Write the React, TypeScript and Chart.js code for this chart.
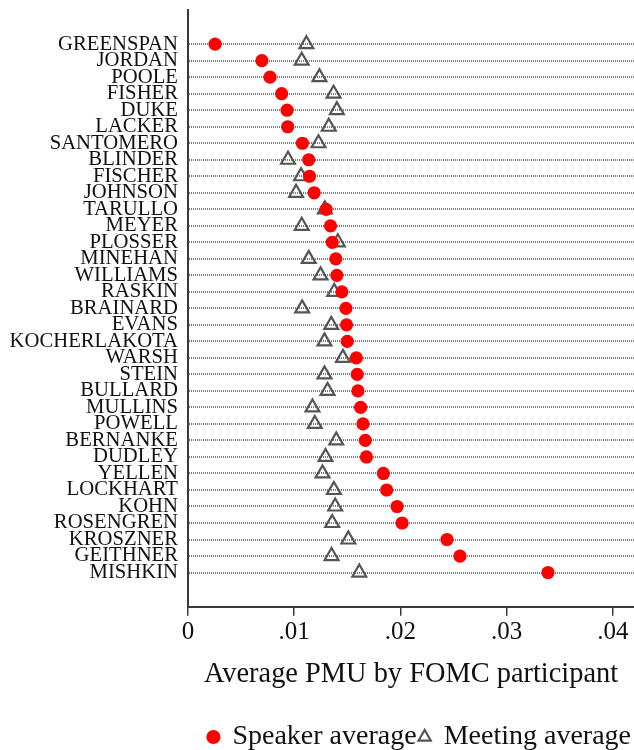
import { useEffect, useRef } from 'react';
import { Chart, registerables } from 'chart.js';

Chart.register(...registerables);

const names = [
  'GREENSPAN', 'JORDAN', 'POOLE', 'FISHER', 'DUKE', 'LACKER', 'SANTOMERO', 'BLINDER',
  'FISCHER', 'JOHNSON', 'TARULLO', 'MEYER', 'PLOSSER', 'MINEHAN', 'WILLIAMS', 'RASKIN',
  'BRAINARD', 'EVANS', 'KOCHERLAKOTA', 'WARSH', 'STEIN', 'BULLARD', 'MULLINS', 'POWELL',
  'BERNANKE', 'DUDLEY', 'YELLEN', 'LOCKHART', 'KOHN', 'ROSENGREN', 'KROSZNER', 'GEITHNER',
  'MISHKIN',
];

const speakerAverage = [
  0.00255, 0.00696, 0.00772, 0.00882, 0.00933, 0.00939, 0.01077, 0.01137,
  0.01144, 0.01188, 0.01301, 0.01342, 0.01358, 0.01392, 0.01402, 0.01449,
  0.01487, 0.01493, 0.0150, 0.01585, 0.01594, 0.0160, 0.01626, 0.01648,
  0.0167, 0.0168, 0.0184, 0.01871, 0.01969, 0.02016, 0.02439, 0.02561,
  0.0339,
];

const meetingAverage = [
  0.01115, 0.01071, 0.01238, 0.01371, 0.01402, 0.01326, 0.01229, 0.00942,
  0.01065, 0.01018, 0.01289, 0.01071, 0.01411, 0.01137, 0.01248, 0.01377,
  0.01075, 0.01349, 0.01285, 0.01459, 0.01285, 0.01314, 0.01172, 0.01194,
  0.01396, 0.01295, 0.01267, 0.01374, 0.01386, 0.01358, 0.0151, 0.01352,
  0.01613,
];

const xTickValues = [0, 0.01, 0.02, 0.03, 0.04];
const xTickLabels = ['0', '.01', '.02', '.03', '.04'];

const SERIF = "'Liberation Serif', 'DejaVu Serif', serif";

export default function App() {
  const ref = useRef<HTMLCanvasElement | null>(null);

  useEffect(() => {
    if (!ref.current) return;
    const chart = new Chart(ref.current, {
      type: 'scatter',
      data: {
        datasets: [
          {
            label: 'Speaker average',
            data: speakerAverage.map((v, i) => ({ x: v, y: i })),
            pointStyle: 'circle',
            pointRadius: 6.6,
            pointBackgroundColor: '#ff0000',
            pointBorderColor: '#ff0000',
            pointBorderWidth: 0,
            backgroundColor: '#ff0000',
            borderColor: '#ff0000',
          },
          {
            label: 'Meeting average',
            data: meetingAverage.map((v, i) => ({ x: v, y: i })),
            pointStyle: 'triangle',
            pointRadius: 8,
            pointBackgroundColor: 'rgba(0,0,0,0)',
            pointBorderColor: '#555555',
            pointBorderWidth: 2.2,
            backgroundColor: 'rgba(0,0,0,0)',
            borderColor: '#555555',
          },
        ],
      },
      options: {
        animation: false,
        responsive: false,
        maintainAspectRatio: false,
        layout: { autoPadding: false, padding: { top: 10, right: 0, left: 0, bottom: -11 } },
        plugins: {
          tooltip: { enabled: false },
          legend: {
            position: 'bottom',
            align: 'end',
            labels: {
              usePointStyle: true,
              boxWidth: 10,
              boxHeight: 10,
              padding: 3,
              color: '#111',
              font: { family: SERIF, size: 28 },
            },
          },
        },
        scales: {
          x: {
            type: 'linear',
            min: 0,
            max: 0.042,
            afterBuildTicks: (scale: any) => {
              scale.ticks = xTickValues.map((v) => ({ value: v }));
            },
            afterFit: (scale: any) => {
              scale.paddingLeft = 0;
              scale.paddingRight = 0;
            },
            ticks: {
              autoSkip: false,
              maxRotation: 0,
              padding: 1.5,
              color: '#111',
              font: { family: SERIF, size: 25 },
              callback: (value: any) => {
                const i = xTickValues.findIndex((t) => Math.abs(t - Number(value)) < 1e-9);
                return i >= 0 ? xTickLabels[i] : '';
              },
            },
            grid: {
              drawOnChartArea: false,
              drawTicks: true,
              tickLength: 9,
              color: '#3a3a3a',
              lineWidth: 1.5,
            },
            border: { display: true, color: '#3a3a3a', width: 2 },
            title: {
              display: true,
              text: 'Average PMU by FOMC participant',
              color: '#111',
              font: { family: SERIF, size: 28.4 },
              padding: { top: 8.4, bottom: 28.8 },
            },
          },
          y: {
            type: 'linear',
            reverse: true,
            min: -2.07,
            max: 34.07,
            afterBuildTicks: (scale: any) => {
              scale.ticks = names.map((_, i) => ({ value: i }));
            },
            afterFit: (scale: any) => {
              scale.width = 188;
              scale.paddingTop = 0;
              scale.paddingBottom = 0;
            },
            ticks: {
              autoSkip: false,
              padding: 10,
              color: '#111',
              font: { family: SERIF, size: 20.7 },
              callback: (value: any) => names[Number(value)] ?? '',
            },
            grid: {
              drawTicks: false,
              color: '#7a7a7a',
              lineWidth: 2,
            },
            border: { display: true, color: '#3a3a3a', width: 2, dash: [1, 1] },
          },
        },
      },
    });
    return () => chart.destroy();
  }, []);

  return (
    <div style={{ position: 'fixed', left: 0, top: 0, width: 634, height: 750, background: '#fff' }}>
      <canvas ref={ref} width={634} height={750} style={{ width: 634, height: 750, display: 'block' }} />
    </div>
  );
}
